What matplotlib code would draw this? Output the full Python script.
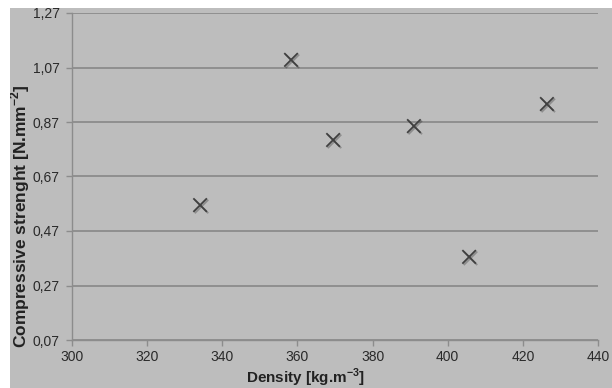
import numpy as np
import matplotlib
matplotlib.use("Agg")
import matplotlib.pyplot as plt
from matplotlib.patches import Rectangle
import matplotlib.patheffects as pe

plt.rcParams['font.family'] = ['Liberation Sans', 'DejaVu Sans']
plt.rcParams['mathtext.fontset'] = 'custom'
plt.rcParams['mathtext.rm'] = 'Liberation Sans'
plt.rcParams['mathtext.bf'] = 'Liberation Sans:bold'

# data
density = [334.1, 358.3, 369.5, 391.0, 405.7, 426.4]
strength = [0.565, 1.098, 0.804, 0.855, 0.375, 0.936]

x_ticks = [300, 320, 340, 360, 380, 400, 420, 440]
y_ticks = [0.07, 0.27, 0.47, 0.67, 0.87, 1.07, 1.27]
y_labels = ["0,07", "0,27", "0,47", "0,67", "0,87", "1,07", "1,27"]

bg = "#bdbdbd"
W, H = 612, 388

fig = plt.figure(figsize=(6.12, 3.88), dpi=100, facecolor=bg)
# thin white strips at top and left, drawn over everything
fig.patches.append(Rectangle((0, 1 - 8 / H), 1, 8 / H,
                             transform=fig.transFigure, facecolor="white",
                             edgecolor="none", zorder=10))
fig.patches.append(Rectangle((0, 0), 10 / W, 1,
                             transform=fig.transFigure, facecolor="white",
                             edgecolor="none", zorder=10))

ax = fig.add_axes([72 / W, (H - 340) / H, (598 - 72) / W, (340 - 13) / H])
ax.set_facecolor(bg)

ax.scatter(density, strength, marker="x", s=95, color="#404040",
           linewidths=1.3, zorder=3,
           path_effects=[pe.SimpleLineShadow(offset=(1, -1), alpha=0.25),
                         pe.Normal()])

ax.set_xlim(300, 440)
ax.set_ylim(0.07, 1.27)
ax.set_xticks(x_ticks)
ax.set_yticks(y_ticks)
ax.set_yticklabels(y_labels)

ax.grid(axis="y", color="#8c8c8c", linewidth=1.3)
ax.set_axisbelow(True)
for s in ["top", "right"]:
    ax.spines[s].set_visible(False)
for s in ["left", "bottom"]:
    ax.spines[s].set_color("#8c8c8c")
    ax.spines[s].set_linewidth(1.0)
ax.tick_params(colors="#8c8c8c", length=4, width=1, labelcolor="#2a2a2a",
               labelsize=10)
ax.tick_params(axis="y", pad=5)
ax.tick_params(axis="x", pad=3.5)

fig.text(20 / W, (H - 348) / H, r"Compressive strenght [N.mm$^{\mathbf{-2}}$]",
         rotation=90, ha="center", va="bottom", fontsize=12.5,
         fontweight="bold", color="#222222")
fig.text(306 / W, (H - 383) / H, r"Density [kg.m$^{\mathbf{-3}}$]",
         ha="center", va="baseline", fontsize=11, fontweight="bold",
         color="#222222")

fig.savefig("out.png", dpi=100, facecolor=bg)
